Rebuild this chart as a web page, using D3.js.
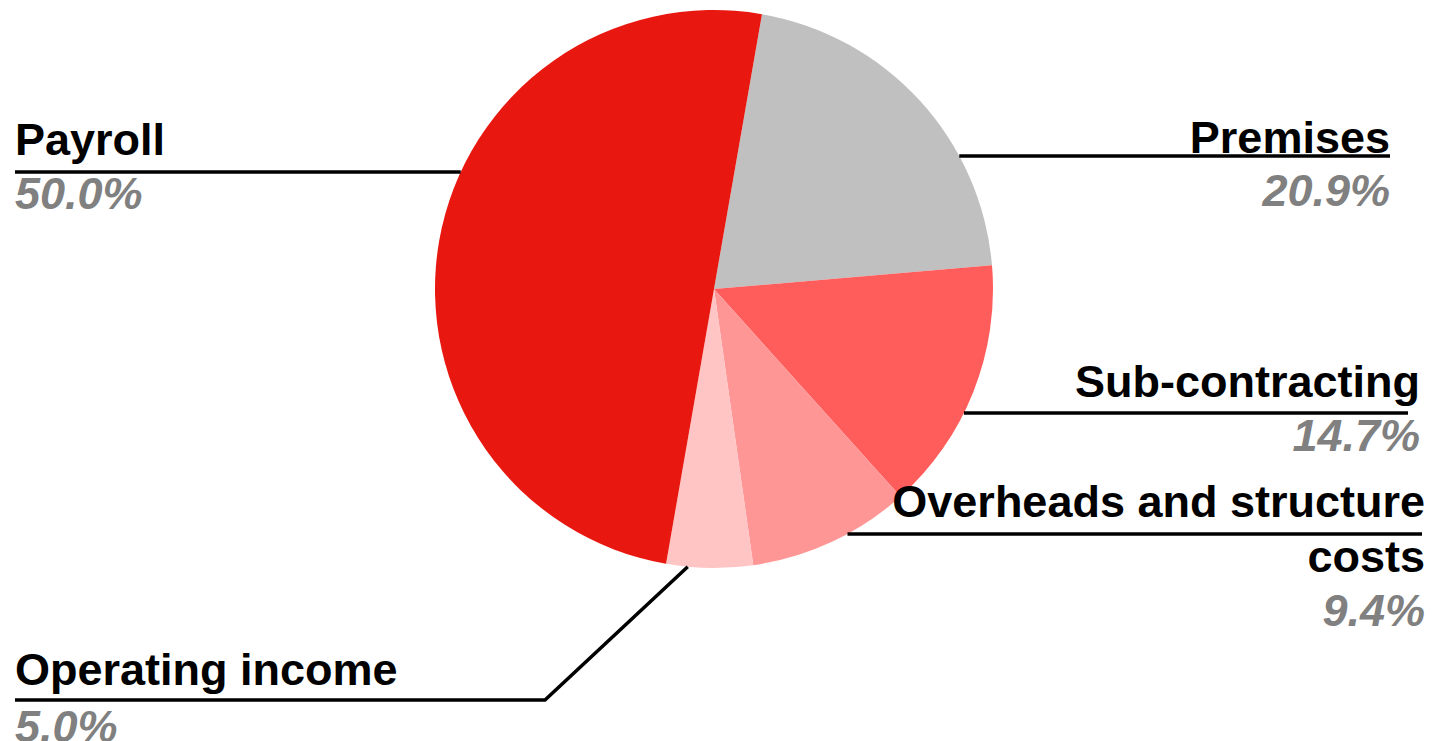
<!DOCTYPE html>
<html>
<head>
<meta charset="utf-8">
<script src="https://cdn.jsdelivr.net/npm/d3@7/dist/d3.min.js"></script>
<style>
  html, body { margin: 0; padding: 0; background: #ffffff; overflow: hidden; }
  svg { display: block; }
  text { font-family: "Liberation Sans", Arial, "Helvetica", sans-serif; font-weight: bold; }
</style>
</head>
<body>
<svg id="chart" width="1434" height="741"></svg>
<script>
// Cost breakdown, share of revenue (%)
const categories = ["Premises", "Sub-contracting", "Overheads and structure costs", "Operating income", "Payroll"];
const shares = [20.9, 14.7, 9.4, 5.0, 50.0];
const colors = ["#c0c0c0", "#ff5c5c", "#ff9696", "#ffc4c4", "#e8170f"];

// Label placement: which side, text anchor x, leader line y and end, text rows
const labelLayout = [
  { side: "right", x: 1390, lineY: 156, lineEnd: 1390, nameLines: ["Premises"], nameY: [153], pctY: 206 },
  { side: "right", x: 1420, lineY: 413, lineEnd: 1408, nameLines: ["Sub-contracting"], nameY: [397], pctY: 451 },
  { side: "right", x: 1425, lineY: 534, lineEnd: 1422, nameLines: ["Overheads and structure", "costs"], nameY: [517, 572], pctY: 626 },
  { side: "left", x: 15, lineY: 700, lineEnd: 15, nameLines: ["Operating income"], nameY: [685], pctY: 742, elbowX: 545, anchorFrac: 0.75 },
  { side: "left", x: 15, lineY: 172, lineEnd: 15, nameLines: ["Payroll"], nameY: [155], pctY: 209 }
];

const svg = d3.select("#chart");
const cx = 714, cy = 289, radius = 279;
const startDeg = 9.9;

const data = categories.map((c, i) => ({ name: c, value: shares[i], color: colors[i], layout: labelLayout[i] }));

const pie = d3.pie()
  .sort(null)
  .value(d => d.value)
  .startAngle(startDeg * Math.PI / 180)
  .endAngle(startDeg * Math.PI / 180 + 2 * Math.PI);

const arc = d3.arc().innerRadius(0).outerRadius(radius);
const arcs = pie(data);

const g = svg.append("g").attr("transform", `translate(${cx},${cy})`);

g.selectAll("path.slice")
  .data(arcs)
  .join("path")
  .attr("class", "slice")
  .attr("d", arc)
  .attr("fill", d => d.data.color);

// Leader lines
const fmt = d3.format(".1f");
const lineGen = d3.line();

arcs.forEach(a => {
  const L = a.data.layout;
  let pts;
  if (L.elbowX !== undefined) {
    const ang = a.startAngle + (a.endAngle - a.startAngle) * L.anchorFrac;
    const ax = cx + radius * Math.sin(ang);
    const ay = cy - radius * Math.cos(ang);
    pts = [[ax, ay], [L.elbowX, L.lineY], [L.lineEnd, L.lineY]];
  } else {
    const dy = L.lineY - cy;
    const dx = Math.sqrt(Math.max(0, radius * radius - dy * dy));
    const ex = L.side === "right" ? cx + dx : cx - dx;
    pts = [[ex, L.lineY], [L.lineEnd, L.lineY]];
  }
  svg.append("path")
    .attr("d", lineGen(pts))
    .attr("fill", "none")
    .attr("stroke", "#000")
    .attr("stroke-width", 3.5)
    .attr("stroke-linejoin", "miter");
});

// Labels
arcs.forEach(a => {
  const L = a.data.layout;
  const anchor = L.side === "right" ? "end" : "start";
  L.nameLines.forEach((line, i) => {
    svg.append("text")
      .attr("x", L.x)
      .attr("y", L.nameY[i])
      .attr("text-anchor", anchor)
      .attr("font-size", 45)
      .attr("fill", "#000")
      .text(line);
  });
  svg.append("text")
    .attr("x", L.x)
    .attr("y", L.pctY)
    .attr("text-anchor", anchor)
    .attr("font-size", 45)
    .attr("font-style", "italic")
    .attr("fill", "#808080")
    .text(fmt(a.data.value) + "%");
});
</script>
</body>
</html>
